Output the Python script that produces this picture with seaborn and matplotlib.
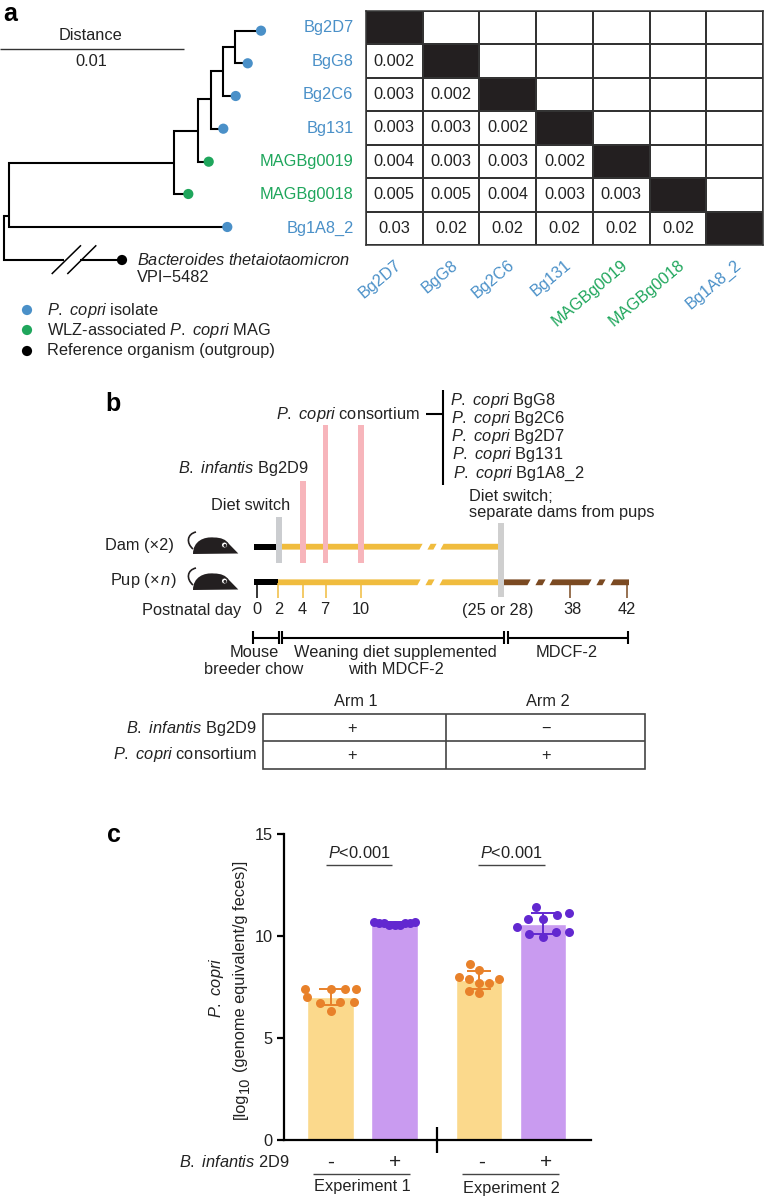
from matplotlib import pyplot as plt
from matplotlib.colors import ListedColormap
from matplotlib.patches import Polygon, Rectangle, PathPatch, Circle
from matplotlib.path import Path
import seaborn as sns
import numpy as np
import pandas as pd

# panel a data
strains = ["Bg2D7", "BgG8", "Bg2C6", "Bg131", "MAGBg0019", "MAGBg0018", "Bg1A8_2"]
strain_colors = ["#4A90C8", "#4A90C8", "#4A90C8", "#4A90C8", "#1FA65C", "#1FA65C", "#4A90C8"]
distances = [
    [],
    [0.002],
    [0.003, 0.002],
    [0.003, 0.003, 0.002],
    [0.004, 0.003, 0.003, 0.002],
    [0.005, 0.005, 0.004, 0.003, 0.003],
    [0.03, 0.02, 0.02, 0.02, 0.02, 0.02],
]
consortium = ["BgG8", "Bg2C6", "Bg2D7", "Bg131", "Bg1A8_2"]

# panel b data
day_labels = ["0", "2", "4", "7", "10", "(25 or 28)", "38", "42"]

# panel c data
bar_groups = ["-", "+", "-", "+"]
bar_means = [7.02, 10.62, 7.84, 10.60]
err_low = [6.62, 10.52, 7.42, 10.10]
err_high = [7.42, 10.70, 8.30, 11.11]
exp1_minus = [7.42, 7.42, 7.42, 7.42, 7.02, 6.78, 6.78, 6.72, 6.31]
exp1_plus = [10.62, 10.70, 10.62, 10.70, 10.52, 10.62, 10.52, 10.62, 10.52]
exp2_minus = [8.61, 8.34, 8.00, 7.91, 7.91, 7.71, 7.71, 7.32, 7.22]
exp2_plus = [11.42, 11.11, 11.03, 10.83, 10.83, 10.44, 10.21, 10.21, 10.10, 9.94]

sns.set_theme(style="ticks")
plt.rcParams["font.family"] = ["Liberation Sans", "DejaVu Sans"]
plt.rcParams["mathtext.fontset"] = "custom"
plt.rcParams["mathtext.rm"] = "Liberation Sans"
plt.rcParams["mathtext.it"] = "Liberation Sans:italic"
plt.rcParams["mathtext.bf"] = "Liberation Sans:bold"

W, H = 764, 1199
FS = 11.8
INK = "#222222"
PCOPRI = r"$\it{P.}$ $\it{copri}$"
BINF = r"$\it{B.}$ $\it{infantis}$"
fig = plt.figure(figsize=(W / 100, H / 100), dpi=100)


def px_axes(x0, y0, x1, y1):
    # axes placed by pixel box, top-left origin
    return fig.add_axes([x0 / W, 1 - y1 / H, (x1 - x0) / W, (y1 - y0) / H])


# ---- heatmap
n = len(strains)
dist = np.full((n, n), np.nan)
for i, row in enumerate(distances):
    dist[i, :len(row)] = row
annot = [[f"{v:g}" if v == v else "" for v in row] for row in dist]
ax_h = px_axes(366, 11, 763, 245)
sns.heatmap(np.eye(n), annot=np.array(annot), fmt="", cmap=ListedColormap(["white", "#231F20"]),
            cbar=False, linewidths=1.1, linecolor="#333333", xticklabels=strains, yticklabels=strains,
            annot_kws={"fontsize": FS, "color": INK}, ax=ax_h)
for s in ax_h.spines.values():
    s.set_visible(True)
    s.set_color("#333333")
    s.set_linewidth(1.1)
ax_h.tick_params(length=0, pad=9)
plt.setp(ax_h.get_xticklabels(), rotation=40, ha="right", rotation_mode="anchor", fontsize=FS)
plt.setp(ax_h.get_yticklabels(), rotation=0, fontsize=FS)
for t, c in zip(ax_h.get_xticklabels(), strain_colors):
    t.set_color(c)
for t, c in zip(ax_h.get_yticklabels(), strain_colors):
    t.set_color(c)

# ---- bars
positions = [0, 1, 2.32, 3.32]
xlim_c = ((284 - 330.5) / 64, (591 - 330.5) / 64)
ax_c = px_axes(284, 834, 591, 1140)
ax_c.set_xlim(xlim_c)
ax_c.set_ylim(0, 15)
bars = pd.DataFrame({"pos": positions, "value": bar_means, "group": bar_groups})
sns.barplot(data=bars, x="pos", y="value", hue="group", palette={"-": "#FBD98C", "+": "#C99BF0"},
            native_scale=True, dodge=False, width=0.73, errorbar=None, legend=False, saturation=1, ax=ax_c)
ax_c.set_xlim(xlim_c)
ax_c.set_ylim(0, 15)

dot_colors = ["#E8812A", "#6228D0", "#E8812A", "#6228D0"]
swarm_sizes = [9.6, 3.6, 7.2, 10]  # spacing of each swarm, the dots get one size afterwards
swarms = []
for pos, vals, col, sz in zip(positions, [exp1_minus, exp1_plus, exp2_minus, exp2_plus], dot_colors, swarm_sizes):
    sns.swarmplot(x=[pos] * len(vals), y=vals, native_scale=True, color=col, size=sz, zorder=3, ax=ax_c)
    swarms.append(ax_c.collections[-1])
    ax_c.set_xlim(xlim_c)
# seaborn lays the swarm out at draw time, so draw once and freeze it before resizing
fig.canvas.draw()
for coll in swarms:
    del coll.draw
    coll.set_sizes([42])
for pos, m, lo, hi, col in zip(positions, bar_means, err_low, err_high, dot_colors):
    ax_c.errorbar(pos, m, yerr=[[m - lo], [hi - m]], color=col, capsize=8.6, lw=1.4, capthick=1.4, zorder=4)

sns.despine(ax=ax_c)
ax_c.patch.set_alpha(0)
ax_c.spines["left"].set_linewidth(1.6)
ax_c.spines["bottom"].set_linewidth(1.6)
ax_c.spines["left"].set_color("black")
ax_c.spines["bottom"].set_color("black")
ax_c.set_yticks([0, 5, 10, 15])
ax_c.set_xticks([])
ax_c.set_xlabel("")
ax_c.set_ylabel("")
ax_c.tick_params(axis="y", length=5, width=1.6, labelsize=FS, color="black", labelcolor=INK, pad=3)

# ---- everything else on a pixel overlay
ov = fig.add_axes([0, 0, 1, 1], zorder=5)
ov.set_xlim(0, W)
ov.set_ylim(H, 0)
ov.axis("off")


def txt(x, y, s, ha="left", va="center", size=FS, **kw):
    ov.text(x, y, s, ha=ha, va=va, fontsize=size, color=kw.pop("color", INK), **kw)


def seg(xs, ys, color="black", lw=1.5):
    ov.plot(xs, ys, color=color, lw=lw, solid_capstyle="butt", solid_joinstyle="miter")


# panel letters
txt(3, 14, "a", size=18, fontweight="bold", color="black")
txt(105, 404, "b", size=18, fontweight="bold", color="black")
txt(107, 835, "c", size=18, fontweight="bold", color="black")

# tree
seg([0, 184], [49, 49], color="#333333", lw=1)
txt(91, 36, "Distance", ha="center")
txt(91, 61, "0.01", ha="center")

tree_paths = [
    ([261, 235, 235, 248], [30.7, 30.7, 63.3, 63.3]),
    ([235, 222.7, 222.7, 236], [47.3, 47.3, 96, 96]),
    ([222.7, 210.7, 210.7, 223], [71, 71, 128.7, 128.7]),
    ([210.7, 198, 198, 209], [99.3, 99.3, 161.7, 161.7]),
    ([198, 174.3, 174.3, 188], [131, 131, 194, 194]),
    ([174.3, 9.3, 9.3, 227], [162.7, 162.7, 227, 227]),
    ([9.3, 4, 4, 64], [216, 216, 260, 260]),
    ([80, 122], [260, 260]),
]
for xs, ys in tree_paths:
    seg(xs, ys)
seg([51.7, 81], [274, 245.3], lw=1.1)
seg([67.3, 96.3], [274, 245.3], lw=1.1)

tip_x = [261, 247.7, 235.7, 223.3, 208.7, 188.3, 227.3, 122]
tip_y = [30.7, 63.3, 96, 128.7, 161.7, 194, 227, 260]
ov.scatter(tip_x, tip_y, s=54, c=strain_colors + ["black"], linewidths=0, zorder=4)

txt(137, 260, r"$\it{Bacteroides}$ $\it{thetaiotaomicron}$")
txt(137, 278, "VPI\u22125482")
ov.scatter([27, 27, 27], [310, 330, 351], s=54, c=["#4A90C8", "#1FA65C", "black"], linewidths=0)
txt(47, 310, PCOPRI + " isolate")
txt(47, 330, "WLZ-associated " + PCOPRI + " MAG")
txt(47, 351, "Reference organism (outgroup)")

# timeline bars
YEL, BRN = "#F0BC3E", "#7B4A22"


def strip(x0, x1, y, color, left=False, right=True, h=5.8, skew=1.6):
    # parallelogram ended strip, the axis breaks are slanted
    a = skew if left else 0
    b = skew if right else 0
    ov.add_patch(Polygon([(x0 - a, y + h / 2), (x0 + a, y - h / 2), (x1 + b, y - h / 2), (x1 - b, y + h / 2)],
                         closed=True, fc=color, ec="none", zorder=2))


dam_y, pup_y = 546.7, 582.3
strip(254, 278, dam_y, "black", right=False)
strip(278, 421, dam_y, YEL)
strip(429, 435, dam_y, YEL, left=True)
strip(442, 499, dam_y, YEL, left=True, right=False)
strip(254, 278, pup_y, "black", right=False)
strip(278, 419, pup_y, YEL)
strip(427, 433, pup_y, YEL, left=True)
strip(441, 499, pup_y, YEL, left=True, right=False)
strip(504, 529, pup_y, BRN)
strip(537, 544, pup_y, BRN, left=True)
strip(551, 590, pup_y, BRN, left=True)
strip(598, 604, pup_y, BRN, left=True)
strip(612, 629, pup_y, BRN, left=True, right=False)

for cx, top in [(303, 481), (325.3, 425), (360.7, 425)]:
    ov.add_patch(Rectangle((cx - 2.8, top), 5.6, 563 - top, fc="#F7B5BB", ec="none", zorder=3))
ov.add_patch(Rectangle((276.2, 516.7), 5.6, 46.5, fc="#CBCDD0", ec="none", zorder=3))
ov.add_patch(Rectangle((498.2, 523), 5.6, 73.7, fc="#CFCFCF", ec="none", zorder=3))

# day ticks and labels
day_tick_x = [257.3, 278, 303, 325.7, 360.7, 570, 627]
day_tick_c = ["black", YEL, YEL, YEL, YEL, BRN, BRN]
for x, c in zip(day_tick_x, day_tick_c):
    seg([x, x], [583, 597.7], color=c, lw=1.1)
for x, s in zip([257, 279, 302, 325, 361, 497.7, 572, 626.7], day_labels):
    txt(x, 610, s, ha="center")
txt(241.7, 610, "Postnatal day", ha="right")


def mouse(dy):
    body = Path([(193, 554 + dy), (193, 541 + dy), (204, 536.5 + dy), (214, 537.5 + dy), (221, 537.5 + dy),
                 (226, 539.5 + dy), (229, 544 + dy), (238.3, 553.5 + dy), (193, 554 + dy)],
                [Path.MOVETO, Path.CURVE4, Path.CURVE4, Path.CURVE4, Path.CURVE4, Path.CURVE4, Path.CURVE4,
                 Path.LINETO, Path.CLOSEPOLY])
    tail = Path([(193, 549 + dy), (186, 543 + dy), (187, 534 + dy), (196, 532 + dy)],
                [Path.MOVETO, Path.CURVE4, Path.CURVE4, Path.CURVE4])
    ov.add_patch(PathPatch(body, fc="#231F20", ec="none"))
    ov.add_patch(PathPatch(tail, fc="none", ec="#231F20", lw=1.2))
    ov.add_patch(Circle((224.5, 545 + dy), 3, fc="white", ec="#231F20", lw=0.7))
    ov.add_patch(Circle((225, 545.5 + dy), 1.5, fc="#231F20", ec="none"))


mouse(0)
mouse(36)
txt(105, 545.7, "Dam (\u00d72)")
txt(110, 580, "Pup (\u00d7$\\,\\it{n}$)")

# treatments
txt(420, 414, PCOPRI + " consortium", ha="right")
txt(178, 468, BINF + " Bg2D9")
txt(211, 506, "Diet switch")
seg([443.3, 443.3], [390, 485], lw=1.5)
seg([425.7, 443.3], [414, 414], lw=1.5)
for x, y, s in zip([450, 451, 451, 452, 453], [400, 418, 436.7, 455, 474], consortium):
    txt(x, y, PCOPRI + " " + s)
txt(469, 496.7, "Diet switch;")
txt(469, 512, "separate dams from pups")

# diet ranges
seg([253, 279], [637.7, 637.7])
seg([282, 503.5], [637.7, 637.7])
seg([507.5, 627.5], [637.7, 637.7])
for x in [253, 279, 282, 503.5, 507.5, 627.5]:
    seg([x, x], [631, 644.4])
txt(254, 652.7, "Mouse", ha="center")
txt(254, 669.3, "breeder chow", ha="center")
txt(395.5, 652.7, "Weaning diet supplemented", ha="center")
txt(395.5, 669.3, "with MDCF-2", ha="center")
txt(567, 652.7, "MDCF-2", ha="center")

# arm table
txt(356, 701, "Arm 1", ha="center")
txt(547.5, 701, "Arm 2", ha="center")
ov.add_patch(Rectangle((262.7, 714.3), 381.8, 54.4, fc="none", ec="#444444", lw=1.2))
seg([262.7, 644.5], [741, 741], color="#444444", lw=1.2)
seg([446.4, 446.4], [714.3, 768.7], color="#444444", lw=1.2)
txt(256.5, 728, BINF + " Bg2D9", ha="right")
txt(256.5, 755, PCOPRI + " consortium", ha="right")
txt(352.5, 728, "+", ha="center")
txt(545.6, 728, "\u2212", ha="center")
txt(352.5, 755.7, "+", ha="center")
txt(545.6, 755.7, "+", ha="center")

# bar chart annotations
txt(359.3, 853, r"$\it{P}$<0.001", ha="center")
txt(511.7, 853, r"$\it{P}$<0.001", ha="center")
seg([326, 392], [864.7, 864.7], color="#444444", lw=1)
seg([478.3, 545], [864.7, 864.7], color="#444444", lw=1)
seg([437, 437], [1127, 1152.7], lw=1.6)
txt(179, 1162, BINF + " 2D9")
for x, s in zip([331, 395, 481.7, 545.7], ["-", "+", "-", "+"]):
    txt(x, 1162, s, ha="center", size=15)
seg([312.7, 410], [1174, 1174], color="#444444", lw=1)
seg([462, 559.3], [1174, 1174], color="#444444", lw=1)
txt(362.3, 1186.7, "Experiment 1", ha="center")
txt(511.7, 1188, "Experiment 2", ha="center")

# y label pieces, the subscript is nearly full size in the original
txt(217, 987.5, PCOPRI, ha="center", rotation=90, rotation_mode="anchor")
txt(240, 1119, "[log", rotation=90, rotation_mode="anchor")
txt(245, 1093, "10", rotation=90, rotation_mode="anchor", size=10.5)
txt(240, 1072, "(genome equivalent/g feces)]", rotation=90, rotation_mode="anchor")

fig.savefig("out.png", dpi=100)
